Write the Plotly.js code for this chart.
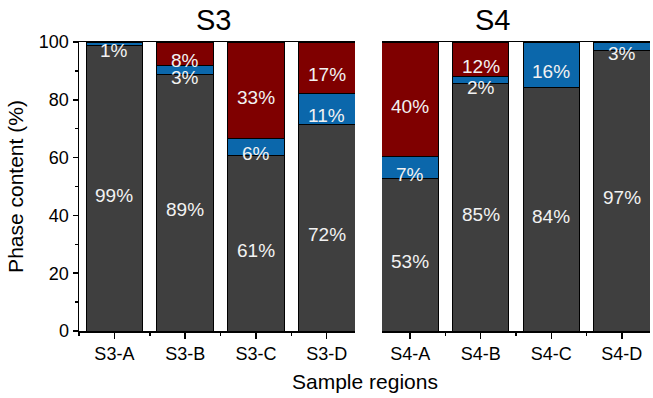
<!DOCTYPE html>
<html>
<head>
<meta charset="utf-8">
<script src="https://cdn.plot.ly/plotly-3.0.1.min.js"></script>
<style>html,body{margin:0;padding:0;background:#fff;}#chart{width:653px;height:398px;}</style>
</head>
<body>
<div id="chart"></div>
<script>
// ---- data ----
const categoriesS3 = ['S3-A', 'S3-B', 'S3-C', 'S3-D'];
const categoriesS4 = ['S4-A', 'S4-B', 'S4-C', 'S4-D'];

const grayS3 = [98.7, 88.6, 60.8, 71.6];
const blueS3 = [1.3, 3.1, 5.9, 10.5];
const redS3  = [null, 8.3, 33.3, 17.9];

const grayS4 = [52.9, 85.5, 84.4, 97.0];
const blueS4 = [7.4, 2.4, 15.6, 3.0];
const redS4  = [39.7, 12.1, null, null];

const grayLabelsS3 = ['99%', '89%', '61%', '72%'];
const blueLabelsS3 = ['1%', '3%', '6%', '11%'];
const redLabelsS3  = ['', '8%', '33%', '17%'];
const grayLabelsS4 = ['53%', '85%', '84%', '97%'];
const blueLabelsS4 = ['7%', '2%', '16%', '3%'];
const redLabelsS4  = ['40%', '12%', '', ''];

const panelTitles = ['S3', 'S4'];
const seriesNames = ['Phase 1', 'Phase 2', 'Phase 3'];

// ---- styles ----
const COLORS = ['#3f3f3f', '#0b67ab', '#7f0000'];
const FONT = 'Liberation Sans, Arial, sans-serif';

const idx = a => a.map((_, i) => i);

function panelTraces(cats, series, xa) {
  return series.map((vals, k) => ({
    type: 'bar',
    x: idx(cats),
    y: vals,
    name: seriesNames[k],
    xaxis: xa, yaxis: 'y',
    width: 0.8,
    marker: {color: COLORS[k], line: {color: '#000', width: 1}},
    showlegend: false,
    hoverinfo: 'skip'
  }));
}

function panelLabels(cats, series, labels, xref) {
  const anns = [];
  cats.forEach((c, i) => {
    let base = 0;
    series.forEach((vals, k) => {
      const v = vals[i];
      if (v == null) return;
      const t = labels[k][i];
      if (t) {
        anns.push({
          xref: xref, yref: 'y', x: i, y: base + v / 2,
          text: t, showarrow: false, yshift: -7,
          font: {family: FONT, size: 19, color: '#f2f2f2'}
        });
      }
      base += v;
    });
  });
  return anns;
}

const sS3 = [grayS3, blueS3, redS3];
const sS4 = [grayS4, blueS4, redS4];

const data = [
  ...panelTraces(categoriesS3, sS3, 'x'),
  ...panelTraces(categoriesS4, sS4, 'x2')
];

const xCommon = {
  type: 'linear',
  showline: true, linecolor: '#000', linewidth: 1.5, mirror: true,
  ticks: 'outside', ticklen: 6, tickwidth: 1.5, tickcolor: '#000',
  showgrid: false, zeroline: false,
  tickfont: {family: FONT, size: 18, color: '#000'},
  minor: {ticks: 'outside', ticklen: 3, tickwidth: 1.5, tickcolor: '#000', dtick: 1, tick0: 0.5, showgrid: false}
};

const layout = {
  width: 653, height: 398,
  margin: {l: 79, r: 3, t: 42, b: 67},
  paper_bgcolor: '#fff', plot_bgcolor: '#fff',
  barmode: 'stack',
  font: {family: FONT, color: '#000'},
  xaxis: Object.assign({}, xCommon, {
    domain: [0, 0.4834], range: [-0.5, 3.4], anchor: 'y',
    tickvals: idx(categoriesS3), ticktext: categoriesS3
  }),
  xaxis2: Object.assign({}, xCommon, {
    domain: [0.5306, 1], range: [-0.4, 3.4], anchor: 'y',
    tickvals: idx(categoriesS4), ticktext: categoriesS4
  }),
  yaxis: {
    range: [0, 100], dtick: 20, tick0: 0,
    showline: true, linecolor: '#000', linewidth: 1.5,
    ticks: 'outside', ticklen: 5, tickwidth: 1.5, tickcolor: '#000',
    showgrid: false, zeroline: false,
    tickfont: {family: FONT, size: 18, color: '#000'},
    minor: {ticks: 'outside', ticklen: 3, tickwidth: 1.5, tickcolor: '#000', dtick: 10, showgrid: false},
    title: {text: 'Phase content (%)', font: {family: FONT, size: 21, color: '#000'}, standoff: 9}
  },
  annotations: [
    ...panelLabels(categoriesS3, sS3, [grayLabelsS3, blueLabelsS3, redLabelsS3], 'x'),
    ...panelLabels(categoriesS4, sS4, [grayLabelsS4, blueLabelsS4, redLabelsS4], 'x2'),
    {xref: 'paper', yref: 'paper', x: 0.2347, y: 1.076, text: panelTitles[0], showarrow: false,
     xanchor: 'center', yanchor: 'middle', font: {family: FONT, size: 29, color: '#000'}},
    {xref: 'paper', yref: 'paper', x: 0.725, y: 1.076, text: panelTitles[1], showarrow: false,
     xanchor: 'center', yanchor: 'middle', font: {family: FONT, size: 29, color: '#000'}},
    {xref: 'paper', yref: 'paper', x: 0.5, y: -0.176, text: 'Sample regions', showarrow: false,
     xanchor: 'center', yanchor: 'middle', font: {family: FONT, size: 21, color: '#000'}}
  ]
};

Plotly.newPlot('chart', data, layout, {displayModeBar: false, staticPlot: true});
</script>
</body>
</html>
